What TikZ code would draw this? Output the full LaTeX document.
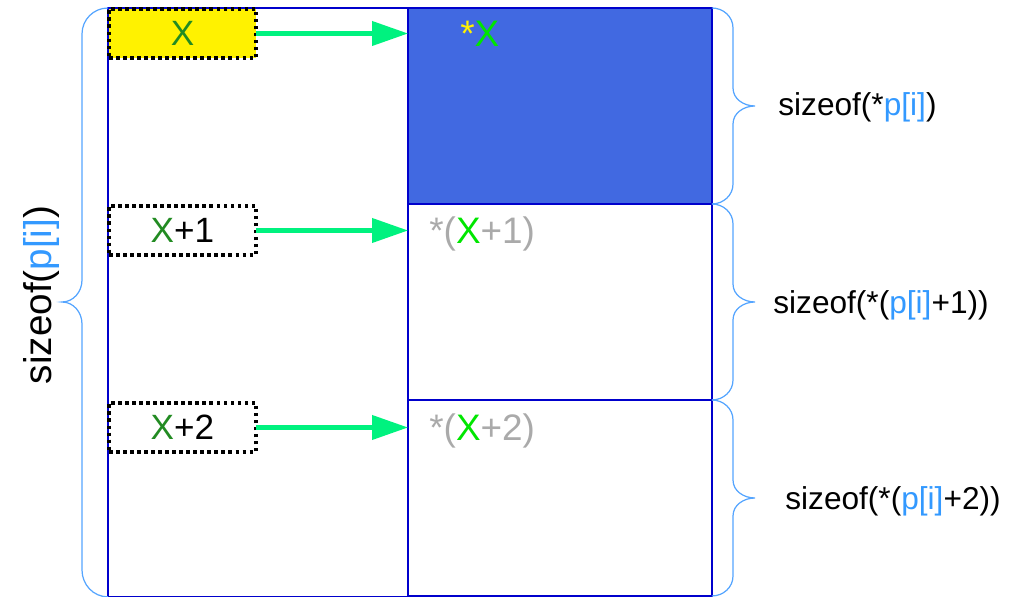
\documentclass[tikz,border=0pt]{standalone}
\usepackage{fontspec}
\setmainfont{Liberation Sans}
\usetikzlibrary{arrows.meta}
\definecolor{cellline}{HTML}{0000CC}
\definecolor{cellfill}{HTML}{4169E1}
\definecolor{arrowgreen}{HTML}{00F27F}
\definecolor{bracecol}{HTML}{55A5FF}
\definecolor{ptrblue}{HTML}{3399FF}
\definecolor{darkX}{HTML}{228B22}
\definecolor{liteX}{HTML}{00E600}
\definecolor{grayt}{HTML}{AAAAAA}
\begin{document}
\begin{tikzpicture}[x=0.02cm,y=-0.02cm,
  cellbox/.style={draw=cellline,line width=1.5pt,minimum width=6.08cm,minimum height=3.92cm,inner sep=0pt,outer sep=0pt,anchor=north west},
  colbox/.style={draw=cellline,line width=1.5pt,minimum width=6cm,minimum height=11.78cm,inner sep=0pt,outer sep=0pt,anchor=north west},
  ptrbox/.style={draw=black,line width=2.2pt,dash pattern=on 2pt off 2pt,minimum width=2.94cm,minimum height=0.98cm,inner sep=0pt,outer sep=0pt,font=\fontsize{20}{22}\selectfont,anchor=north west},
  ptrarrow/.style={arrowgreen,line width=2.3pt,-{Triangle[length=0.72cm,width=0.48cm]}},
  brace/.style={bracecol,line width=0.7pt},
  lbl/.style={font=\fontsize{18}{20}\selectfont,anchor=west,inner sep=0pt},
  celltxt/.style={font=\fontsize{21}{23}\selectfont,anchor=west,inner sep=0pt,text=grayt}
]
\useasboundingbox (0,0) rectangle (1021,597);
% memory column (left) and target cells (right)
\node[colbox] (col) at (108,8) {};
\node[cellbox,fill=cellfill] (c1) at (408,8) {};
\node[cellbox] (c2) at (408,204) {};
\node[cellbox] (c3) at (408,400) {};
% pointer boxes
\node[ptrbox,fill=yellow] (p1) at (109,9) {\textcolor{darkX}{X}};
\node[ptrbox] (p2) at (109,206) {\textcolor{darkX}{X}+1};
\node[ptrbox] (p3) at (109,403) {\textcolor{darkX}{X}+2};
% arrows
\draw[ptrarrow] (p1.east) -- (p1.east -| c1.west);
\draw[ptrarrow] (p2.east) -- (p2.east -| c2.west);
\draw[ptrarrow] (p3.east) -- (p3.east -| c3.west);
% cell texts
\node[celltxt] (t1) at (460,34) {\textcolor{yellow}{*}\textcolor{liteX}{X}};
\node[celltxt] (t2) at (429,234) {*(\textcolor{liteX}{X}+1)};
\node[celltxt] (t3) at (429,431) {*(\textcolor{liteX}{X}+2)};
% right braces
\draw[brace] (c1.north east) to[out=0,in=90] (733,28) -- (733,88) to[out=-90,in=180] (755,106) to[out=180,in=90] (733,124) -- (733,184) to[out=-90,in=0] (c1.south east);
\draw[brace] (c2.north east) to[out=0,in=90] (733,224) -- (733,284) to[out=-90,in=180] (755,302) to[out=180,in=90] (733,320) -- (733,380) to[out=-90,in=0] (c2.south east);
\draw[brace] (c3.north east) to[out=0,in=90] (733,420) -- (733,480) to[out=-90,in=180] (755,498) to[out=180,in=90] (733,516) -- (733,576) to[out=-90,in=0] (c3.south east);
% left brace
\draw[brace] (col.north west) to[out=180,in=90] (82,34) -- (82,280) to[out=-90,in=0] (62,302) to[out=0,in=90] (82,324) -- (82,570) to[out=-90,in=180] (col.south west);
% labels
\node[lbl] (l1) at (778,107) {sizeof(*\textcolor{ptrblue}{p[i]})};
\node[lbl] (l2) at (773,305) {sizeof(*(\textcolor{ptrblue}{p[i]}+1))};
\node[lbl] (l3) at (785,501) {sizeof(*(\textcolor{ptrblue}{p[i]}+2))};
\node[font=\fontsize{22}{24}\selectfont,rotate=90,inner sep=0pt] (l0) at (42,295) {sizeof(\textcolor{ptrblue}{p[i]})};
\end{tikzpicture}
\end{document}
